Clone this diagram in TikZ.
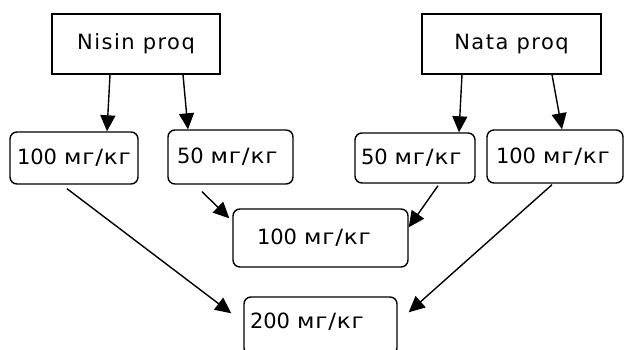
\documentclass[tikz,border=0pt]{standalone}
\usepackage{fontspec}
\setmainfont{DejaVu Sans}
\newfontfamily\namefont[LetterSpace=7]{DejaVu Sans}
\newfontfamily\unitfont[FakeStretch=1.1,LetterSpace=4]{DejaVu Sans}
\usetikzlibrary{arrows.meta}

\begin{document}
\begin{tikzpicture}[x=1pt,y=-1pt]
\tikzset{src/.style={draw,line width=1.4pt,minimum height=60pt,inner sep=0pt,font=\fontsize{21}{25}\selectfont\namefont}}
\tikzset{dose/.style={draw,line width=1.4pt,rounded corners=7pt,align=left,inner ysep=0pt,font=\fontsize{21}{25}\selectfont}}
\tikzset{arr/.style={line width=1.4pt,-{Triangle[length=16pt,width=15pt]}}}

  \useasboundingbox (0,0) rectangle (624,350);

  \node[src,minimum width=168pt] (nisin) at (136,44) {Nisin proq};
  \node[src,minimum width=179pt] (nata) at (511.5,44) {Nata proq};

  \node[dose,text width=114pt,inner xsep=7pt,minimum height=52pt] (na) at (74,158) {100 {\unitfont мг/кг}};
  \node[dose,text width=107pt,inner xsep=9pt,minimum height=54pt] (nb) at (230.5,157) {50 {\unitfont мг/кг}};
  \node[dose,text width=108pt,inner xsep=6pt,minimum height=50pt] (tc) at (415,158) {50 {\unitfont мг/кг}};
  \node[dose,text width=118pt,inner xsep=9pt,minimum height=53pt] (td) at (555,156.5) {100 {\unitfont мг/кг}};
  \node[dose,text width=127pt,inner xsep=24pt,minimum height=58pt] (mid) at (320.5,238) {100 {\unitfont мг/кг}};
  \node[dose,text width=141pt,inner xsep=6pt,text height=31pt,text depth=27pt] (sum) at (320.5,326) {200 {\unitfont мг/кг}};

  \draw[arr] ([xshift=-26pt]nisin.south) -- ([xshift=33pt]na.north);
  \draw[arr] ([xshift=47pt]nisin.south) -- ([xshift=-42.5pt]nb.north);
  \draw[arr] ([xshift=-49.5pt]nata.south) -- ([xshift=44pt]tc.north);
  \draw[arr] ([xshift=40.5pt]nata.south) -- ([xshift=7pt]td.north);

  \draw[arr] ([xshift=-28.5pt,yshift=-7pt]nb.south) -- ([xshift=-3pt,yshift=-10pt]mid.north west);
  \draw[arr] ([xshift=23pt,yshift=-2pt]tc.south) -- ([yshift=-19pt]mid.north east);
  \draw[arr] ([xshift=-7pt,yshift=-4pt]na.south) -- ([xshift=-12pt,yshift=-17pt]sum.north west);
  \draw[arr] ([xshift=-3pt,yshift=-1pt]td.south) -- ([xshift=11pt,yshift=-16pt]sum.north east);
\end{tikzpicture}
\end{document}
